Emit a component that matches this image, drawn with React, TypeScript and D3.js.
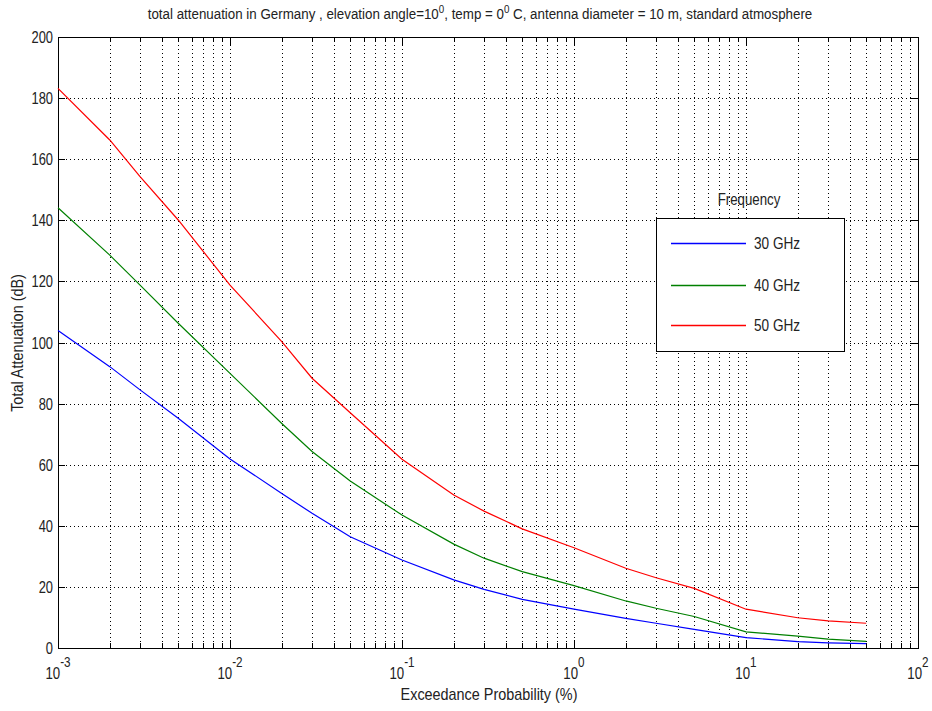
import React from "react";
import * as d3 from "d3";

const probs = [0.001, 0.002, 0.003, 0.005, 0.01, 0.02, 0.03, 0.05, 0.1, 0.2, 0.3, 0.5, 1, 2, 3, 5, 10, 20, 30, 50];
const att30 = [103.9, 92.1, 84.5, 75.2, 61.9, 50.6, 44.1, 36.4, 28.8, 22.3, 19.2, 15.9, 12.7, 9.7, 8.1, 6.1, 3.4, 2.1, 1.7, 1.4];
const att40 = [144.1, 128.6, 118.8, 106.3, 89.9, 73.5, 64.3, 54.7, 43.5, 34.0, 29.4, 25.0, 20.4, 15.4, 13.0, 10.3, 5.3, 3.9, 2.9, 2.2];
const att50 = [183.2, 166.3, 154.3, 140.1, 118.8, 100.3, 88.3, 77.0, 61.8, 50.1, 44.8, 39.0, 32.8, 26.1, 23.0, 19.5, 12.7, 9.9, 8.9, 8.1];
const seriesNames = ["30 GHz", "40 GHz", "50 GHz"];
const seriesColors = ["#0000ff", "#008000", "#ff0000"];
const yTicks = [0, 20, 40, 60, 80, 100, 120, 140, 160, 180, 200];
const xExponents = [-3, -2, -1, 0, 1, 2];

const W = 932, H = 711;
const L = 58, R = 918, T = 37, B = 648;
const FONT = "'Liberation Sans', Arial, sans-serif";
const TXT = "#222";

function CText(props: any) {
  const { x, y, sx, rot, children, ...rest } = props;
  const tr = `translate(${x},${y})${rot ? ` rotate(${rot})` : ""} scale(${sx},1)`;
  return (
    <text transform={tr} fill={TXT} {...rest}>
      {children}
    </text>
  );
}

export default function App() {
  const x = d3.scaleLog().domain([1e-3, 1e2]).range([L, R]);
  const y = d3.scaleLinear().domain([0, 200]).range([B, T]);
  const series = [att30, att40, att50];
  const line = d3.line<[number, number]>().x((d) => x(d[0])).y((d) => y(d[1]));

  const minor: number[] = [];
  for (let e = -3; e < 2; e++) {
    for (let m = 2; m <= 9; m++) minor.push(m * Math.pow(10, e));
  }
  const major = xExponents.map((e) => Math.pow(10, e));
  const px = (v: number) => Math.round(x(v)) + 0.5;
  const py = (v: number) => Math.round(y(v)) + 0.5;

  const gridStyle = { stroke: "#000", strokeWidth: 1, strokeDasharray: "1,3", shapeRendering: "crispEdges" as const };

  const legX0 = 656, legX1 = 844, legY0 = 218, legY1 = 351;
  const rowY = [243, 285, 325];

  return (
    <svg width={W} height={H} style={{ position: "absolute", left: 0, top: 0, background: "#fff" }} fontFamily={FONT}>
      <rect x={0} y={0} width={W} height={H} fill="#fff" />
      {/* grid */}
      {yTicks.slice(1, -1).map((t) => (
        <line key={"gy" + t} x1={L} x2={R} y1={py(t)} y2={py(t)} style={gridStyle} />
      ))}
      {[...minor, ...major.slice(1, -1)].map((v, i) => (
        <line key={"gx" + i} x1={px(v)} x2={px(v)} y1={T} y2={B} style={gridStyle} />
      ))}
      {/* ticks */}
      {yTicks.map((t) => (
        <g key={"ty" + t}>
          <line x1={L} x2={L + 7} y1={py(t)} y2={py(t)} stroke="#000" />
          <line x1={R - 7} x2={R} y1={py(t)} y2={py(t)} stroke="#000" />
          <CText x={53} y={y(t) + 6} sx={0.76} textAnchor="end" fontSize={17}>{t}</CText>
        </g>
      ))}
      {minor.map((v, i) => (
        <g key={"tm" + i}>
          <line x1={px(v)} x2={px(v)} y1={B} y2={B - 5} stroke="#000" />
          <line x1={px(v)} x2={px(v)} y1={T} y2={T + 5} stroke="#000" />
        </g>
      ))}
      {major.map((v, i) => (
        <g key={"tM" + i}>
          <line x1={px(v)} x2={px(v)} y1={B} y2={B - 8} stroke="#000" />
          <line x1={px(v)} x2={px(v)} y1={T} y2={T + 8} stroke="#000" />
          <CText x={x(v)} y={679} sx={0.78} textAnchor="middle" fontSize={17}>
            <tspan>10</tspan>
            <tspan dy={-12} fontSize={15}>{xExponents[i]}</tspan>
          </CText>
        </g>
      ))}
      {/* frame */}
      <rect x={L + 0.5} y={T + 0.5} width={R - L} height={B - T} fill="none" stroke="#000" strokeWidth={1} />
      {/* series */}
      {series.map((s, i) => (
        <path key={"s" + i} d={line(probs.map((p, j) => [p, s[j]] as [number, number])) || ""} fill="none" stroke={seriesColors[i]} strokeWidth={1.2} />
      ))}
      {/* legend */}
      <CText x={749} y={205} sx={0.83} textAnchor="middle" fontSize={16}>Frequency</CText>
      <rect x={legX0 + 0.5} y={legY0 + 0.5} width={legX1 - legX0} height={legY1 - legY0} fill="#fff" stroke="#000" />
      {seriesNames.map((n, i) => (
        <g key={"l" + i}>
          <path d={`M671,${rowY[i] + 0.5}L746,${rowY[i] + 0.5}`} stroke={seriesColors[i]} strokeWidth={1.5} fill="none" />
          <CText x={754} y={rowY[i] + 6} sx={0.85} fontSize={16}>{n}</CText>
        </g>
      ))}
      {/* title */}
      <CText x={480} y={19} sx={0.89} textAnchor="middle" fontSize={15}>
        <tspan>total attenuation in Germany , elevation angle=10</tspan>
        <tspan dy={-6} fontSize={11}>0</tspan>
        <tspan dy={6}>, temp = 0</tspan>
        <tspan dy={-6} fontSize={11}>0</tspan>
        <tspan dy={6}> C, antenna diameter = 10 m, standard atmosphere</tspan>
      </CText>
      {/* axis labels */}
      <CText x={489} y={700} sx={0.9} textAnchor="middle" fontSize={16}>Exceedance Probability (%)</CText>
      <CText x={23} y={343} rot={-90} sx={0.9} textAnchor="middle" fontSize={16}>Total Attenuation (dB)</CText>
    </svg>
  );
}
